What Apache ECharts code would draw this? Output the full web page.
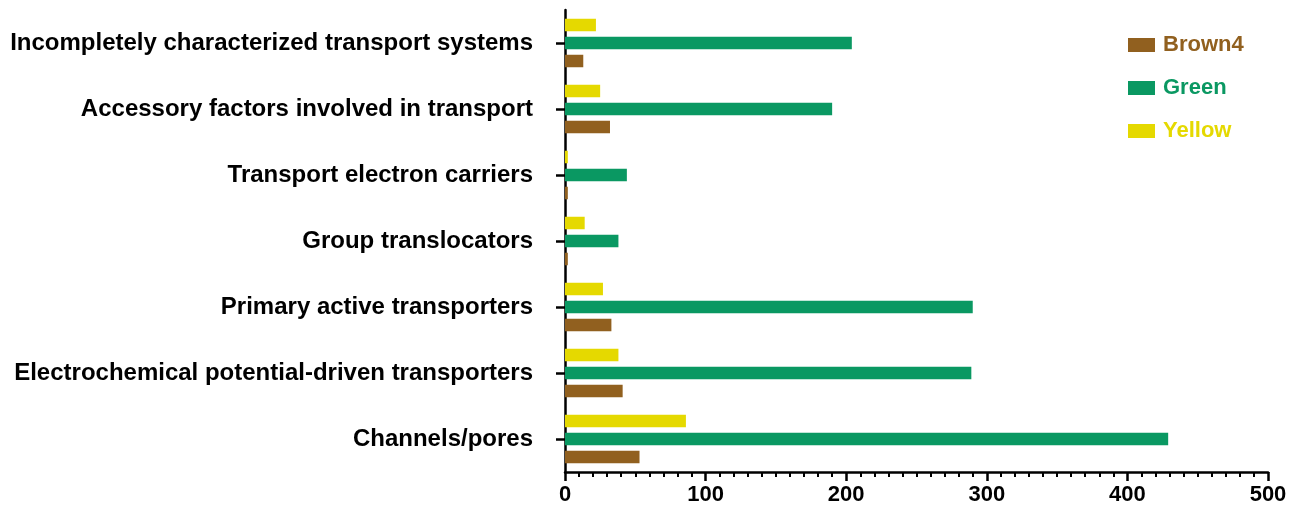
<!DOCTYPE html>
<html>
<head>
<meta charset="utf-8">
<script src="https://cdn.jsdelivr.net/npm/echarts@6/dist/echarts.min.js"></script>
<style>
  html, body { margin: 0; padding: 0; background: #fff; }
  #chart { width: 1303px; height: 508px; }
</style>
</head>
<body>
<div id="chart"></div>
<script>
// Transporter classes, listed top to bottom
const categories = [
  'Incompletely characterized transport systems',
  'Accessory factors involved in transport',
  'Transport electron carriers',
  'Group translocators',
  'Primary active transporters',
  'Electrochemical potential-driven transporters',
  'Channels/pores'
];
const brown4 = [13, 32, 2, 2, 33, 41, 53];
const green = [204, 190, 44, 38, 290, 289, 429];
const yellow = [22, 25, 2, 14, 27, 38, 86];
const xTicks = [0, 100, 200, 300, 400, 500];

const COLORS = { Brown4: '#91601F', Green: '#0A9862', Yellow: '#E5D900' };
const FONT = 'Liberation Sans, Arial, sans-serif';

const chart = echarts.init(document.getElementById('chart'));

function barSeries(name, data) {
  return {
    name: name,
    type: 'bar',
    data: data,
    barWidth: 12.5,
    barGap: '44%',
    itemStyle: { color: COLORS[name] },
    emphasis: { disabled: true }
  };
}

chart.setOption({
  animation: false,
  grid: { left: 565, right: 35, top: 10, bottom: 36, containLabel: false },
  legend: {
    orient: 'vertical',
    left: 1123,
    top: 29,
    itemWidth: 27,
    itemHeight: 14,
    itemGap: 21,
    icon: 'rect',
    selectedMode: false,
    data: ['Brown4', 'Green', 'Yellow'].map(n => ({
      name: n,
      textStyle: { color: COLORS[n] }
    })),
    textStyle: { fontFamily: FONT, fontWeight: 'bold', fontSize: 22, padding: [0, 0, 0, 3] }
  },
  xAxis: {
    type: 'value',
    min: xTicks[0],
    max: xTicks[xTicks.length - 1],
    interval: 100,
    axisLine: { show: true, lineStyle: { color: '#000', width: 2.5 } },
    axisTick: { show: true, length: 9, lineStyle: { color: '#000', width: 2.5 } },
    minorTick: { show: true, splitNumber: 10, length: 5, lineStyle: { color: '#000', width: 2 } },
    splitLine: { show: false },
    axisLabel: {
      color: '#000', fontFamily: FONT, fontWeight: 'bold', fontSize: 22, margin: 12,
      customValues: xTicks
    }
  },
  yAxis: {
    type: 'category',
    data: categories,
    inverse: true,
    axisLine: { show: true, lineStyle: { color: '#000', width: 2.5 } },
    axisTick: { show: true, alignWithLabel: true, length: 9, lineStyle: { color: '#000', width: 2.5 } },
    axisLabel: { color: '#000', fontFamily: FONT, fontWeight: 'bold', fontSize: 24, margin: 32 }
  },
  series: [
    barSeries('Yellow', yellow),
    barSeries('Green', green),
    barSeries('Brown4', brown4)
  ]
});
</script>
</body>
</html>
